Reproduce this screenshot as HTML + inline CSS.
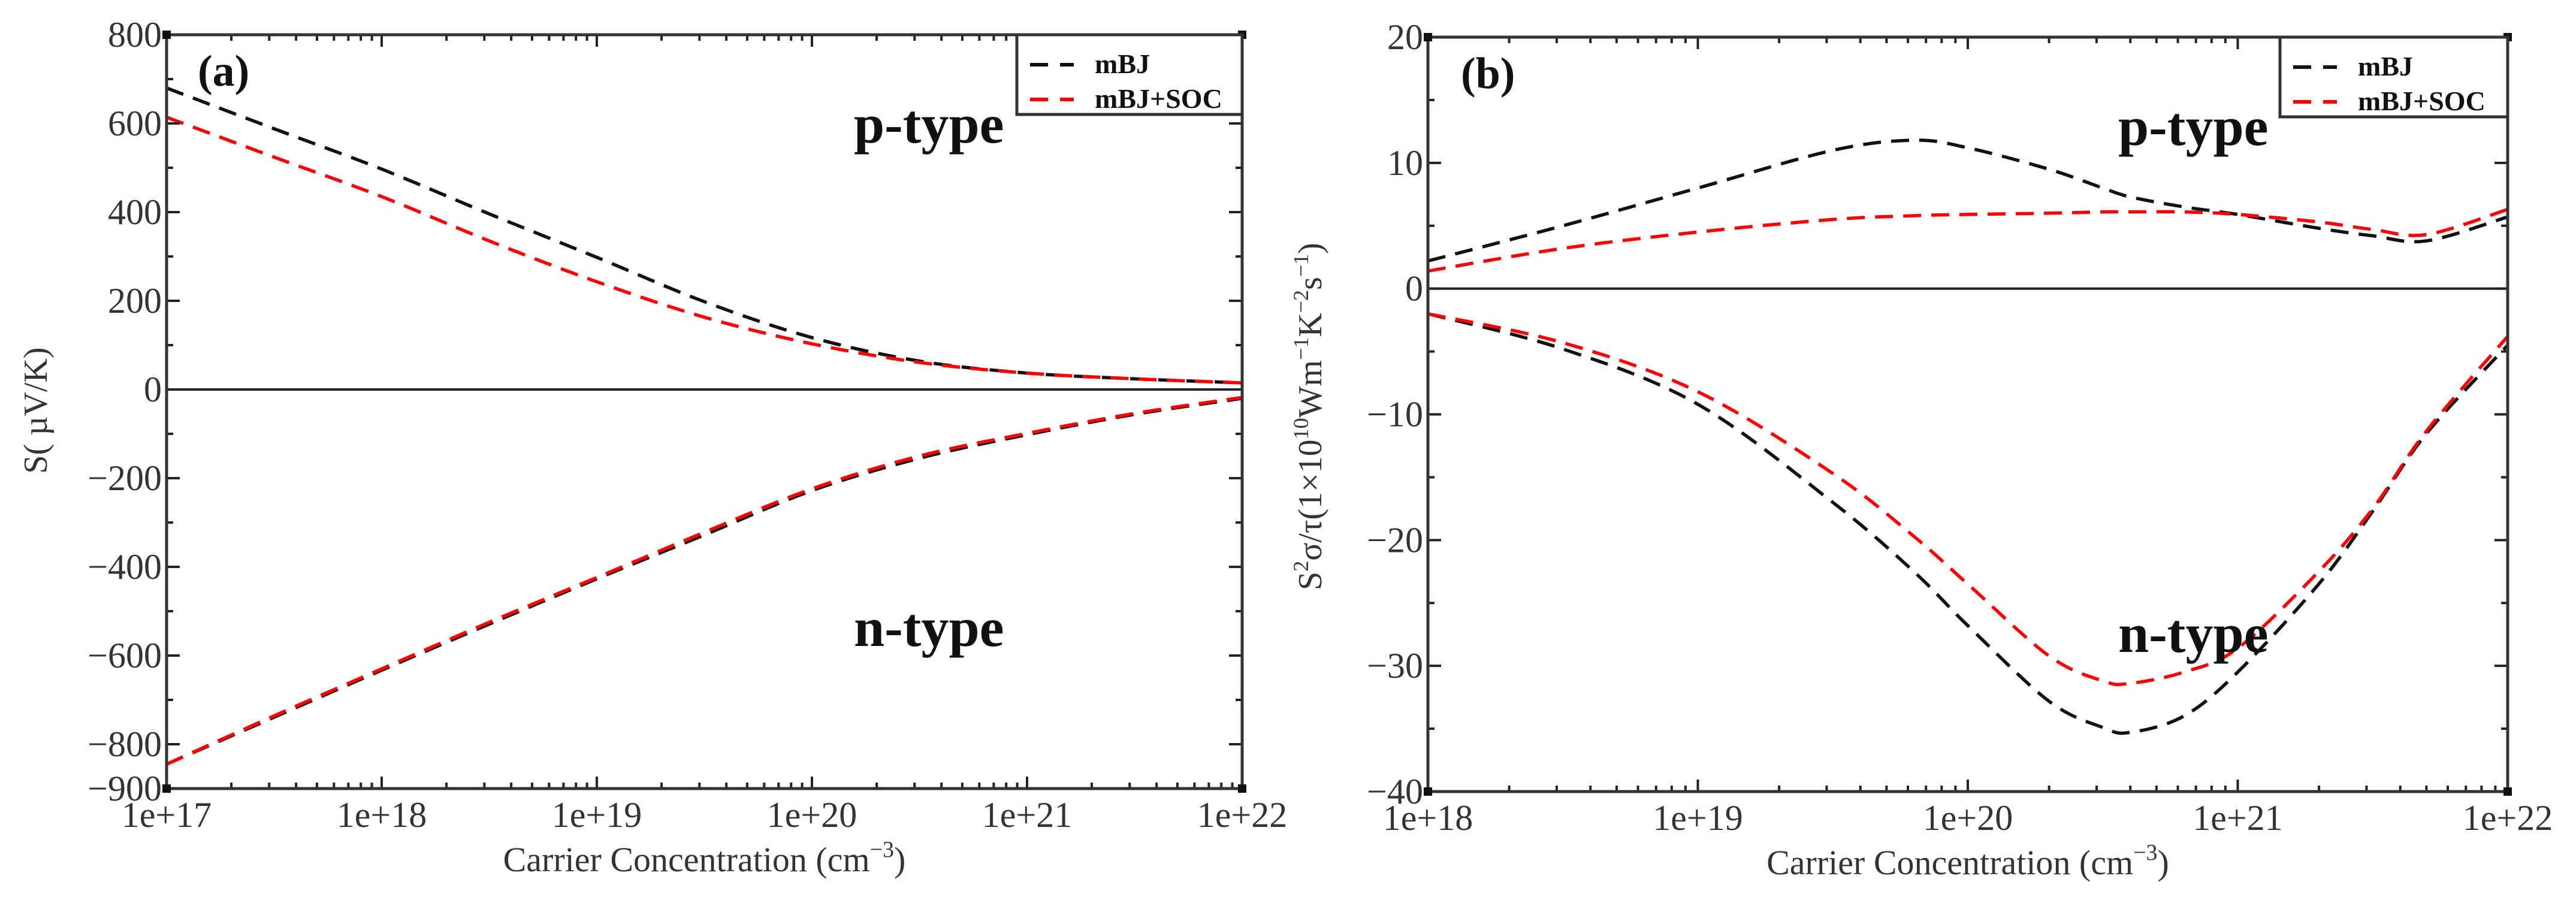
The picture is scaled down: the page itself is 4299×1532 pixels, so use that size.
<!DOCTYPE html>
<html><head><meta charset="utf-8"><style>
html,body{margin:0;padding:0;background:#fff;}
svg{display:block;font-family:"Liberation Serif",serif;}
</style></head><body>
<svg id="chart" width="4299" height="1532" viewBox="0 0 4299 1532" xmlns="http://www.w3.org/2000/svg">
<g id="pa"></g>
<g id="pb"></g>
</svg>
<script>
// Panel (a) data: log10 carrier concentration, Seebeck (uV/K)
const aX = [17,17.5,18,18.5,19,19.5,20,20.5,21,21.5,22];
const aPmbj = [680,588,497,396,298,198,117,64,37,24,15];
const aPsoc = [614,524,435,335,243,163,103,61,37,24,15];
const aNmbj = [-845,-739,-633,-529,-427,-328,-228,-155,-102,-56,-20];
const aNsoc = [-845,-736,-630,-525,-424,-322,-224,-150,-99,-54,-18];
const aYTicks = [800,600,400,200,0,-200,-400,-600,-800,-900];
const aXTicks = ["1e+17","1e+18","1e+19","1e+20","1e+21","1e+22"];
// Panel (b) data: power factor
const bX = [18,18.5,19,19.5,19.8,20,20.3,20.5,20.6,20.8,21,21.3,21.5,21.7,22];
const bPmbj = [2.2,5.0,8.0,11.0,11.8,11.2,9.5,8.0,7.3,6.5,5.9,4.8,4.2,3.8,5.7];
const bPsoc = [1.4,3.2,4.5,5.5,5.8,5.9,6.0,6.1,6.1,6.1,5.9,5.3,4.7,4.3,6.3];
const bNmbj = [-2.0,-4.8,-9.2,-17.0,-22.5,-26.8,-32.8,-34.9,-35.3,-34.0,-30.5,-23.5,-17.7,-11.5,-4.5];
const bNsoc = [-2.0,-4.3,-8.2,-14.7,-19.7,-23.5,-29.2,-31.2,-31.4,-30.5,-28.6,-22.5,-17.5,-11.3,-3.8];
const bYTicks = [20,10,0,-10,-20,-30,-40];
const bXTicks = ["1e+18","1e+19","1e+20","1e+21","1e+22"];

const NS="http://www.w3.org/2000/svg";
function mk(parent,tag,attrs){const e=document.createElementNS(NS,tag);for(const k in attrs)e.setAttribute(k,attrs[k]);parent.appendChild(e);return e;}
function path(pts){let d="M"+pts[0][0]+","+pts[0][1];for(let i=0;i<pts.length-1;i++){const p0=pts[Math.max(0,i-1)],p1=pts[i],p2=pts[i+1],p3=pts[Math.min(pts.length-1,i+2)];
const c1=[p1[0]+(p2[0]-p0[0])/6,p1[1]+(p2[1]-p0[1])/6],c2=[p2[0]-(p3[0]-p1[0])/6,p2[1]-(p3[1]-p1[1])/6];
d+=" C"+c1[0]+","+c1[1]+" "+c2[0]+","+c2[1]+" "+p2[0]+","+p2[1];}return d;}

function panel(g,cfg){
  const {L,R,T,B,xmin,xmax,ymin,ymax}=cfg;
  const sx=v=>L+(v-xmin)/(xmax-xmin)*(R-L);
  const sy=v=>T+(ymax-v)/(ymax-ymin)*(B-T);
  // zero line
  const z=mk(g,"line",{x1:L,x2:R,y1:sy(0),y2:sy(0),stroke:"#222","stroke-width":4});
  
  
  // series
  cfg.series.forEach(s=>{
    const pts=cfg.xs.map((x,i)=>[sx(x),sy(s.v[i])]);
    const p=mk(g,"path",{d:path(pts),fill:"none",stroke:s.c,"stroke-width":5.5,"stroke-dasharray":"30 17"});
    
    
  });
  // ticks
  const tg=mk(g,"g",{stroke:"#222","stroke-width":4});
  
  
  for(let d=xmin;d<xmax;d++){for(let m=2;m<=9;m++){const x=sx(d+Math.log10(m));
    mk(tg,"line",{x1:x,x2:x,y1:B,y2:B-10});mk(tg,"line",{x1:x,x2:x,y1:T,y2:T+10});}}
  for(let d=xmin;d<=xmax;d++){const x=sx(d);mk(tg,"line",{x1:x,x2:x,y1:B,y2:B-20});mk(tg,"line",{x1:x,x2:x,y1:T,y2:T+20});}
  for(let v=ymin;v<=ymax+1e-9;v+=cfg.minor){const y=sy(v);const major=Math.abs(v/cfg.major-Math.round(v/cfg.major))<1e-6;const l=major?22:11;
    mk(tg,"line",{x1:L,x2:L+l,y1:y,y2:y});mk(tg,"line",{x1:R,x2:R-l,y1:y,y2:y});}
  // frame
  const f=mk(g,"rect",{x:L,y:T,width:R-L,height:B-T,fill:"none",stroke:"#333","stroke-width":5});
  
  
  [[L,T],[R,T],[L,B],[R,B]].forEach(c=>mk(g,"rect",{x:c[0]-7,y:c[1]-7,width:14,height:14,fill:"#111"}));
  // y tick labels
  cfg.yt.forEach(v=>{const t=mk(g,"text",{x:L-8,y:sy(v)+20,"text-anchor":"end","font-size":60,fill:"#333"});t.textContent=v<0?"\u2212"+(-v):String(v);
    
    });
  cfg.xt.forEach((s,i)=>{const t=mk(g,"text",{x:sx(xmin+i),y:B+64,"text-anchor":"middle","font-size":60,fill:"#333"});t.textContent=s;
    
    });
  // x title
  const xt=mk(g,"text",{x:(L+R)/2,y:B+138,"text-anchor":"middle","font-size":58,fill:"#333"});
  xt.innerHTML='Carrier Concentration (cm<tspan dy="-24" font-size="38">\u22123</tspan><tspan dy="24">)</tspan>';
  
  
  // panel letter
  const pl=mk(g,"text",{x:L+cfg.letterDx,y:T+85,"font-size":74,"font-weight":"bold",fill:"#111"});pl.textContent=cfg.letter;
  
  
  // type labels
  const pt=mk(g,"text",{x:cfg.typeX,y:cfg.pY,"font-size":92,"font-weight":"bold",fill:"#111"});pt.textContent="p-type";
  
  
  const nt=mk(g,"text",{x:cfg.typeX,y:cfg.nY,"font-size":92,"font-weight":"bold",fill:"#111"});nt.textContent="n-type";
  
  
  // legend
  const lg=mk(g,"g",{});
  
  
  const lx=cfg.legL;
  mk(lg,"rect",{x:lx,y:T,width:R-lx,height:cfg.legH,fill:"#fff",stroke:"#333","stroke-width":5});
  [["mBJ","#111"],["mBJ+SOC","#f00"]].forEach((e,i)=>{const y=T+50+i*58;
    const ln=mk(lg,"line",{x1:lx+22,x2:lx+95,y1:y,y2:y,stroke:e[1],"stroke-width":6,"stroke-dasharray":"30 20"});
    
    
    const t=mk(lg,"text",{x:lx+130,y:y+14,"font-size":46,"font-weight":"bold",fill:"#111"});t.textContent=e[0];
    
    });
  // y title
  const yt=mk(g,"text",{x:0,y:0,"text-anchor":"middle","font-size":cfg.ytSize,fill:"#333",transform:"translate("+cfg.ytX+","+cfg.ytY+") rotate(-90)"});
  yt.innerHTML=cfg.ytitle;
  
  
}
panel(document.getElementById("pa"),{L:278,R:2073,T:58,B:1316,xmin:17,xmax:22,ymin:-900,ymax:800,major:200,minor:100,
  xs:aX,series:[{v:aPmbj,c:"#111",name:"mbj-p-type-line"},{v:aPsoc,c:"#f00",name:"mbj-soc-p-type-line"},{v:aNmbj,c:"#111",name:"mbj-n-type-line"},{v:aNsoc,c:"#f00",name:"mbj-soc-n-type-line"}],
  yt:aYTicks,xt:aXTicks,letter:"(a)",letterDx:52,typeX:1425,pY:238,nY:1078,legL:1697,legH:133,
  ytitle:'S( \u00b5V/K)',ytSize:56,ytX:78,ytY:685});
panel(document.getElementById("pb"),{L:2383,R:4185,T:62,B:1321,xmin:18,xmax:22,ymin:-40,ymax:20,major:10,minor:5,
  xs:bX,series:[{v:bPmbj,c:"#111",name:"mbj-p-type-line"},{v:bPsoc,c:"#f00",name:"mbj-soc-p-type-line"},{v:bNmbj,c:"#111",name:"mbj-n-type-line"},{v:bNsoc,c:"#f00",name:"mbj-soc-n-type-line"}],
  yt:bYTicks,xt:bXTicks,letter:"(b)",letterDx:55,typeX:3535,pY:242,nY:1088,legL:3805,legH:133,
  ytitle:'S<tspan dy="-22" font-size="36">2</tspan><tspan dy="22">\u03c3/\u03c4(1\u00d710</tspan><tspan dy="-22" font-size="36">10</tspan><tspan dy="22">Wm</tspan><tspan dy="-22" font-size="36">\u22121</tspan><tspan dy="22">K</tspan><tspan dy="-22" font-size="36">\u22122</tspan><tspan dy="22">s</tspan><tspan dy="-22" font-size="36">\u22121</tspan><tspan dy="22">)</tspan>',
  ytSize:56,ytX:2205,ytY:695});
</script>
</body></html>
